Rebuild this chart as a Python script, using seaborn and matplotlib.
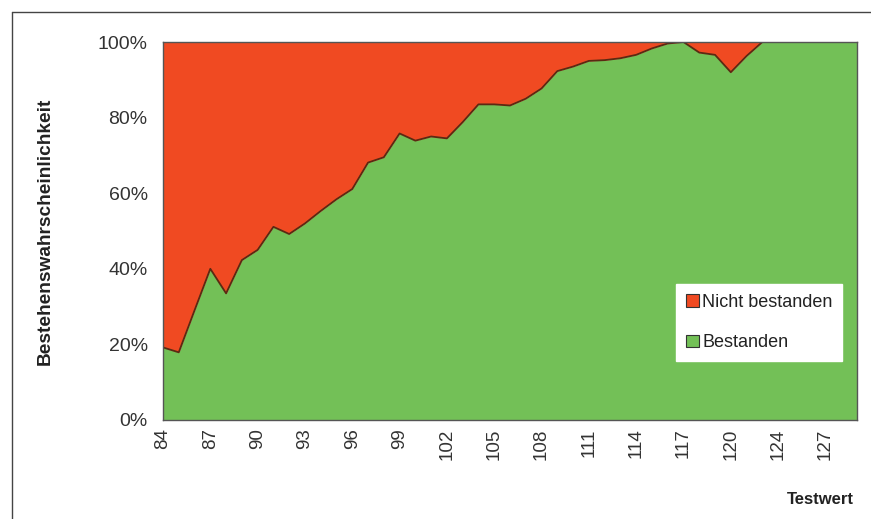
import matplotlib
matplotlib.use("Agg")
import matplotlib.pyplot as plt
import seaborn as sns
import pandas as pd
from matplotlib.patches import Patch
from matplotlib.lines import Line2D

# ---- data ----
testwert = list(range(84, 123)) + [124, 125, 126, 127, 128, 129]
bestanden = [19.2, 17.9, 29.0, 40.0, 33.5, 42.3, 45.0, 51.1, 49.2, 52.0,
             55.3, 58.4, 61.1, 68.1, 69.5, 75.8, 73.9, 75.0, 74.5, 78.8,
             83.5, 83.5, 83.2, 85.0, 87.7, 92.3, 93.5, 95.0, 95.2, 95.7,
             96.6, 98.3, 99.6, 100.0, 97.2, 96.6, 92.0, 96.3, 100.0, 100.0,
             100.0, 100.0, 100.0, 100.0, 100.0]
tick_labels = ["84", "87", "90", "93", "96", "99", "102", "105", "108",
               "111", "114", "117", "120", "124", "127"]
y_ticks = [0, 20, 40, 60, 80, 100]
series_names = ["Nicht bestanden", "Bestanden"]

df = pd.DataFrame({"pos": range(len(testwert)),
                   "testwert": testwert,
                   "bestanden": bestanden})
df["nicht"] = 100 - df["bestanden"]

RED = "#F04A22"
GREEN = "#73C057"
EDGE = "#5A2A12"

sns.set_theme(style="white")
plt.rcParams["font.family"] = ["Liberation Sans", "DejaVu Sans"]

fig = plt.figure(figsize=(8.71, 5.19), dpi=100)
ax = fig.add_axes([163 / 871, 1 - 420 / 519, 694 / 871, 378 / 519])

ax.fill_between(df["pos"], 0, df["bestanden"], color=GREEN, linewidth=0)
ax.fill_between(df["pos"], df["bestanden"], df["bestanden"] + df["nicht"],
                color=RED, linewidth=0)
sns.lineplot(data=df, x="pos", y="bestanden", ax=ax, color=EDGE,
             linewidth=1.3, legend=False)

ax.set_xlim(0, len(testwert) - 1)
ax.set_ylim(0, 100)

tick_pos = [df.loc[df["testwert"] == int(t), "pos"].iloc[0] for t in tick_labels]
ax.set_xticks(tick_pos)
ax.set_xticklabels(tick_labels, rotation=90, fontsize=13.5, color="#333333")
ax.set_yticks(y_ticks)
ax.set_yticklabels([f"{v}%" for v in y_ticks], fontsize=14, color="#333333")
ax.tick_params(axis="y", length=0, pad=11)
ax.tick_params(axis="x", length=0, pad=6)
ax.set_xlabel("")
ax.set_ylabel("")

for s in ax.spines.values():
    s.set_color("#555555")
    s.set_linewidth(1.0)

fig.text(45 / 871, 1 - 231 / 519, "Bestehenswahrscheinlichkeit", rotation=90,
         ha="center", va="center", fontsize=13.8, fontweight="bold",
         color="#222222")
fig.text(820 / 871, 1 - 500 / 519, "Testwert", ha="center", va="center",
         fontsize=12, fontweight="bold", color="#222222")

handles = [Patch(facecolor=RED, edgecolor="#333333", linewidth=0.8),
           Patch(facecolor=GREEN, edgecolor="#333333", linewidth=0.8)]
leg = ax.legend(handles, series_names, loc="upper left",
                bbox_to_anchor=((676 - 163) / 694, (420 - 284) / 378),
                frameon=True, fancybox=False, framealpha=1,
                facecolor="white", edgecolor="white", fontsize=13,
                handlelength=0.7, handleheight=0.7, handletextpad=0.2,
                labelspacing=1.3, borderpad=0.55, borderaxespad=0)
for t in leg.get_texts():
    t.set_color("#222222")

# outer frame lines
fig.add_artist(Line2D([12 / 871, 1], [1 - 12 / 519, 1 - 12 / 519],
                      transform=fig.transFigure, color="#444444", linewidth=1))
fig.add_artist(Line2D([12 / 871, 12 / 871], [0, 1 - 12 / 519],
                      transform=fig.transFigure, color="#444444", linewidth=1))

fig.savefig("out.png", dpi=100)
